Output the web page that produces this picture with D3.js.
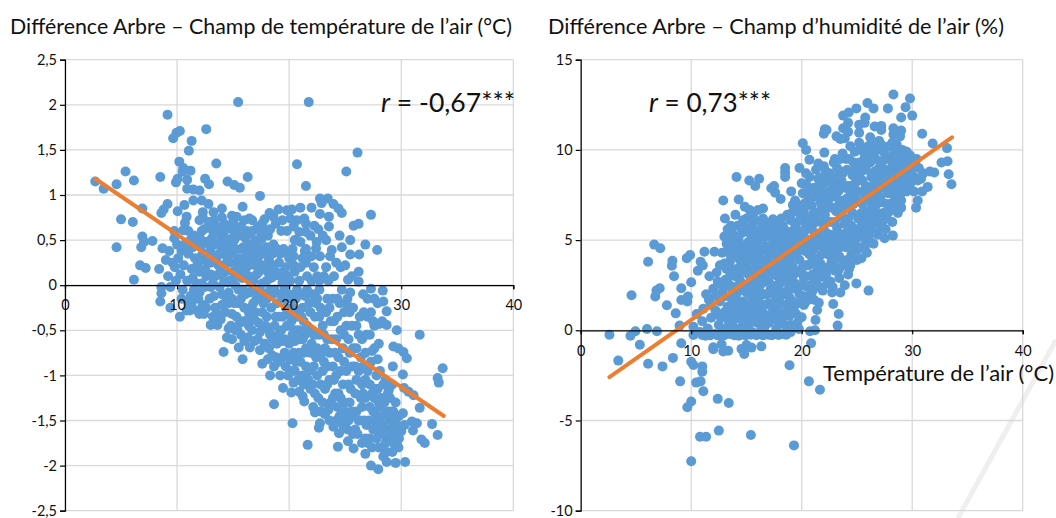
<!DOCTYPE html>
<html><head><meta charset="utf-8">
<script src="https://cdnjs.cloudflare.com/ajax/libs/d3/7.8.5/d3.min.js"></script>
<style>html,body{margin:0;background:#fff}svg{display:block}text{font-family:Lato,Carlito,sans-serif;fill:#111}</style>
</head><body><div id="c"></div>
<script>
const xTicks=[0,10,20,30,40];
const yTicksLeft=[-2.5,-2,-1.5,-1,-0.5,0,0.5,1,1.5,2,2.5];
const yTicksRight=[-10,-5,0,5,10,15];
const titleLeft="Différence Arbre – Champ de température de l’air (°C)";
const titleRight="Différence Arbre – Champ d’humidité de l’air (%)";
const xLabelRight="Température de l’air (°C)";
const trendLeft=[[2.7,1.18],[33.8,-1.45]];
const trendRight=[[2.6,-2.6],[33.6,10.7]];
const pointsLeftSparse=[[2.7,1.15],[3.45,1.07],[4.6,1.12],[5.4,1.26],[6.15,1.16],[6.9,.85],[5,.73],[6.05,.7],[4.6,.42],[6.9,.54],[7.05,.48],[6.8,.42],[7.8,.49],[9.15,1.89],[15.45,2.03],[21.75,2.03],[10.25,1.71],[9.95,1.69],[9.65,1.63],[12.6,1.73],[11.3,1.6],[11.05,1.49],[26.1,1.47],[13.5,1.35],[10.2,1.37],[20.7,1.34],[25.1,1.26],[10.55,1.3],[11.2,1.27],[10.5,1.26],[8.5,1.2],[10.05,1.18],[9.9,1.14],[10.9,1.17],[12.5,1.18],[12.85,1.12],[16.3,1.2],[14.5,1.15],[15.1,1.11],[15.6,1.08],[21.5,1.1],[10.9,1.07],[11.45,1.06],[12,1.05],[17.4,.99],[22.75,.96],[23.45,.96],[22.9,.91],[23.95,.9],[24.4,.85],[24.7,.8],[27.3,.78],[9.15,.9],[8.8,.84],[8.6,.8],[10.05,.82],[10.65,.89],[11.45,.94],[12.2,.94],[12.8,.9],[14,.85],[15.85,.87],[19.05,.84],[19.8,.83],[20.25,.84],[21,.86],[22,.86],[18.25,.8],[18.6,.76],[20.1,.74],[22.75,.79],[23.55,.76],[23.55,.65],[21.35,.74],[21.5,.68],[22.25,.66],[25.75,.66],[26.2,.68],[12.3,.81],[13.25,.81],[14.9,.77],[15.3,.76],[16.45,.74],[17.8,.73],[10.85,.76],[10.7,.69],[12,.72],[12.8,.65],[13.85,.56],[15.7,.65],[19.8,.6],[20.9,.59],[21.5,.59],[9.75,.6],[9.75,.52],[10.55,.61],[10.75,.46],[12.05,.52],[17.55,.57],[16.45,.57],[14.9,.52],[14.15,.43],[20.55,.5],[22.45,.48],[25.45,.5],[26.8,.45],[27.85,.39],[24.7,.42],[23.8,.39],[23.65,.32],[22.4,.41],[21.4,.38],[19.9,.35],[20.4,.32],[22.75,.32],[25.45,.34],[26.25,.34],[8.7,.41],[9.3,.38],[9,.28],[6.15,.06],[6.7,.22],[7.2,.19],[8.4,.18],[8.6,-.02],[8.6,-.09],[8.5,-.18],[9.4,-.25],[10.25,-.35],[10.85,-.28],[11.15,-.28],[12,-.32],[13,-.44],[13.6,-.44],[14.45,-.58],[14.15,-.74],[15.5,-.69],[16.5,-.69],[15.85,-.82],[17.6,-.87],[18.65,-.9],[18.3,-1],[19.45,-1.14],[20.2,-1.19],[18.65,-1.32],[20.3,-1.53],[21.65,-1.77],[21.2,-1.23],[21.35,-1.29],[22.15,-1.35],[22.3,-1.41],[23.2,-1.43],[22.75,-1.53],[22.65,-1.58],[23.95,-1.57],[24.45,-1.64],[25.25,-1.73],[24.35,-1.79],[25.75,-1.81],[26.8,-1.87],[27.3,-2],[27.95,-2.04],[28.7,-1.96],[29.5,-1.97],[30.35,-1.96],[29.75,-1.8],[31.8,-1.71],[32.1,-1.75],[33.25,-1.66],[32.75,-1.54],[31.05,-1.61],[31.4,-1.53],[30.95,-1.51],[30.15,-1.42],[31.65,-1.36],[31.1,-1.22],[30.65,-1.18],[30.25,-1.14],[30.15,-.99],[33.35,-1.08],[33.25,-1.03],[33.7,-.92],[31.65,-.55],[29.6,-.5],[28.7,-.44],[28.05,-.43],[28.7,-.29],[28.35,-.06],[27.3,-.04],[28.4,-.18],[29.3,-.68],[29.75,-.7],[30.2,-.74],[30.5,-.81],[28,-.65],[27.4,-.73],[27.9,-.82],[29.25,-.9],[28.9,-1.16],[26.2,.15],[25.25,.06],[26.2,.04],[25.45,-.08],[25.15,-.21],[26.65,-.3]];
const pointsLeftDense=[[9.2,.1],[9.6,.25],[9.4,-.02],[9.9,.05],[9.8,.2],[10.1,.3],[10.3,.12],[10.5,-.05],[10.6,.22],[11,.35],[10.9,.05],[11.2,-.12],[11.3,.18],[11.6,.3],[11.7,.02],[11.9,-.15],[12,.15],[12.1,.42],[12.4,.28],[12.5,-.02],[12.6,.1],[12.9,.45],[12.9,-.15],[13,.25],[13.2,.6],[13.2,.02],[13.4,-.25],[13.5,.3],[13.7,.12],[13.9,.48],[14,-.1],[14.1,.22],[14.3,-.3],[14.4,.62],[14.5,.03],[14.7,.35],[14.8,-.45],[14.9,-.15],[15,.15],[15.1,.5],[15.3,-.35],[15.4,.3],[15.5,-.05],[15.7,-.55],[15.8,.08],[15.9,.42],[16,-.25],[16.2,.2],[16.2,.6],[16.4,-.45],[16.5,-.08],[16.7,.35],[16.8,.05],[17,-.3],[17,.5],[17.2,-.6],[17.3,.15],[17.5,-.15],[17.7,.35],[17.9,-.45],[18,.05],[18.1,.55],[18.2,-.7],[18.4,-.25],[18.5,.22],[18.7,-.05],[18.9,.4],[19,-.55],[19.1,-.35],[19.2,.1],[19.4,-.8],[19.5,-.15],[19.7,.2],[19.8,-.45],[20,-.65],[20.1,.05],[20.2,-.95],[20.3,-.25],[20.5,.15],[20.6,-.5],[20.8,-1.05],[20.9,-.75],[21,-.1],[21.2,.3],[21.3,-.4],[21.5,-.9],[21.6,.1],[21.8,-.2],[21.9,-1.15],[22,-.65],[22.2,.2],[22.3,-.35],[22.5,-1],[22.6,-1.25],[22.7,-.05],[22.9,-.75],[23,-.45],[23.1,.1],[23.2,-1.15],[23.4,-.9],[23.5,-1.38],[23.6,-.25],[23.8,-.6],[24,.1],[24,-1.05],[24.2,-1.5],[24.3,-.35],[24.4,-.8],[24.6,-1.25],[24.7,-.05],[24.9,-.55],[25,-1.4],[25.1,-.95],[25.2,-1.6],[25.4,-.3],[25.5,-1.15],[25.7,-.7],[25.8,-1.45],[26,-.45],[26.1,-1.65],[26.2,-.95],[26.4,-1.25],[26.5,-.6],[26.7,-1.5],[26.8,-1.05],[27,-1.75],[27,-.35],[27.2,-1.35],[27.3,-.85],[27.5,-1.6],[27.6,-.15],[27.7,-1.15],[27.9,-1.45],[28,-1.8],[28.1,-.95],[28.2,-1.25],[28.3,-.4],[28.4,-1.6],[28.6,-1.05],[28.7,-1.85],[28.8,-1.4],[29,-1.7],[29.2,-1.1],[29.3,-1.55],[29.5,-1.3],[29.6,-1.75],[29.8,-1.45],[30,-1.62],[30.3,-1.55],[10,.45],[10.8,.45],[11.5,.55],[12.2,.6],[12.8,.7],[13.5,.65],[14,.75],[15,.7],[11.5,-.05],[12.3,-.22],[13,-.02],[13.6,.45],[14.2,.05],[14.6,-.2],[15.2,0],[15.6,.2],[16,.3],[16.4,.1],[16.8,-.2],[17.2,.3],[17.6,.02],[18,-.15],[18.4,.08],[18.8,-.35],[19.2,-.1],[19.6,-.6],[20,.3],[20.4,-.75],[20.8,-.3],[21.2,-.6],[21.6,-.05],[22,.05],[22.4,-.55],[22.8,-.25],[23.2,-.7],[23.6,-1.05],[24,-.4],[24.4,-1.2],[24.8,-1.55],[25.2,-.15],[25.6,-.9],[26,-1.4],[26.4,-.8],[26.8,-1.7],[27.2,-.55],[27.6,-1.25],[28,-1.55],[28.4,-1.9],[28.8,-1.2],[29.2,-1.85],[29.6,-1.55],[14.5,.45],[15.5,.55],[16.5,.45],[17.5,.5],[18.5,.35],[19.5,.4],[20.5,.5],[21.5,.4],[22.5,.1],[23.5,.05]];
const pointsLeftFill=[[10.4,.38],[10.4,-.15],[11,.6],[11,-.2],[11.4,.42],[11.4,.08],[11.8,.22],[11.8,-.28],[12.2,.02],[12.2,.33],[12.6,.48],[12.6,-.25],[13,.12],[13,.38],[13.3,.72],[13.3,-.12],[13.6,-.32],[13.7,.22],[14,.35],[14,-.22],[14.3,.15],[14.3,.52],[14.6,-.08],[14.6,.25],[14.9,.62],[14.9,-.32],[15.2,.1],[15.2,.4],[15.2,-.5],[15.5,-.2],[15.5,.15],[15.8,-.4],[15.8,.28],[16.1,-.1],[16.1,.52],[16.4,-.3],[16.4,.22],[16.7,-.5],[16.7,.6],[17,-.05],[17,.22],[17.3,-.42],[17.3,.4],[17.6,-.3],[17.6,.18],[17.9,-.1],[17.9,.6],[18.2,-.5],[18.2,.28],[18.5,-.6],[18.5,-.1],[18.8,.15],[18.8,-.8],[19.1,-.6],[19.1,.25],[19.4,-.35],[19.4,.02],[19.7,-.9],[19.7,-.25],[20,-.45],[20,-.1],[20.3,-.55],[20.3,.4],[20.6,-.85],[20.6,-.15],[20.9,-.5],[20.9,.05],[21.2,-1],[21.2,-.25],[21.5,-.7],[21.5,.25],[21.8,-.5],[21.8,-.95],[22.1,-1.1],[22.1,-.1],[22.4,-.8],[22.4,-.2],[22.7,-.55],[22.7,.05],[23,-1.3],[23,-.95],[23.3,-.3],[23.3,.2],[23.6,-.75],[23.6,-1.5],[23.9,-1.25],[23.9,-.15],[24.2,-.6],[24.2,-1],[24.5,-.2],[24.5,-1.45],[24.8,-.7],[24.8,-1.1],[25.1,-.45],[25.1,-1.45],[25.4,-1.3],[25.4,-.75],[25.7,-1.65],[25.7,-.25],[26,-1.05],[26,-.7],[26.3,-1.5],[26.3,-.35],[26.6,-1.2],[26.6,-.9],[26.9,-1.55],[26.9,-.55],[27.2,-1.7],[27.2,-1.1],[27.5,-.4],[27.5,-1.4],[27.8,-1],[27.8,-1.7],[28.1,-1.35],[28.1,-1.65],[28.4,-1.1],[28.4,-1.45],[28.7,-1.7],[28.7,-1.25],[29,-1.5],[29,-1.25],[29.3,-1.75],[29.3,-1.4],[29.6,-1.65],[29.9,-1.58]];
const pointsLeftFill2=[[11.2,.5],[11.7,.45],[12.3,.75],[12.5,.18],[12.7,.35],[13.1,.52],[13.4,.1],[13.8,.35],[13.8,-.02],[14.2,.68],[14.5,.28],[14.7,.05],[14.4,-.15],[14.9,.4],[15.3,.62],[15.2,.25],[15.1,-.2],[15.4,-.5],[15.7,.4],[15.7,-.15],[15.9,-.05],[16,.72],[16.1,.12],[16.3,-.38],[16.3,.35],[16.6,.02],[16.6,.28],[16.6,-.25],[16.9,.42],[16.9,-.38],[17.1,.12],[17.1,-.15],[17.4,-.05],[17.4,.6],[17.4,-.52],[17.7,.22],[17.7,-.2],[18,.42],[18,-.35],[18.1,.15],[18.3,-.05],[18.3,-.55],[18.6,.45],[18.6,.1],[18.7,-.45],[18.9,-.2],[18.9,-.65],[19.2,.35],[19.3,-.5],[19.5,.15],[19.6,-.02],[19.6,-.75],[19.9,.1],[19.9,-.32],[19.9,-1],[20.2,-.15],[20.2,-.4],[20.4,.22],[20.5,-.95],[20.5,-.62],[20.7,-.05],[20.7,-.35],[21,.2],[21,-.85],[21,-.6],[21.3,-.75],[21.3,-1.1],[21.4,-.12],[21.6,-.45],[21.7,-1.05],[21.9,-.3],[21.9,-.75],[22.2,-.9],[22.2,-.55],[22.3,-1.2],[22.5,-.15],[22.5,-.7],[22.7,-.35],[22.8,-1.1],[22.8,-1.4],[23.1,-.55],[23.1,-.85],[23.4,-.15],[23.4,-.6],[23.4,-1.1],[23.7,-.4],[23.7,-1.3],[23.9,-.9],[24.1,-.75],[24.1,-1.2],[24.3,-.15],[24.3,-1.35],[24.6,-.5],[24.6,-.95],[24.7,-1.5],[24.9,-.3],[24.9,-.85],[24.9,-1.3],[25.3,-.6],[25.3,-1.1],[25.3,-1.5],[25.6,-.45],[25.6,-1.4],[25.9,-.9],[25.9,-1.2],[25.9,-1.6],[26.2,-.55],[26.2,-1.5],[26.5,-1.1],[26.5,-1.35],[26.5,-1.75],[26.8,-.75],[26.8,-1.25],[27,-.95],[27.1,-1.5],[27.3,-.3],[27.4,-1.2],[27.4,-1.8],[27.6,-1.5],[27.6,-.7],[27.9,-1.15],[28,-1.3],[28.2,-1.8],[28.3,-1.55],[28.5,-1.3],[28.6,-1.75],[28.9,-1.6],[29.1,-1.4],[29.2,-1.65],[29.5,-1.5],[29.8,-1.7]];
const pointsLeftFill3=[[11.3,-.2],[12,-.08],[12.4,-.32],[13.2,-.35],[13.9,-.38],[14.6,-.48],[14.9,-.6],[15.6,-.42],[16,-.62],[16.3,-.58],[16.9,-.62],[17.4,-.72],[17.8,-.65],[18.1,-.82],[18.5,-.78],[19.1,-.85],[19.4,-.62],[19.2,-1],[20.1,-.82],[20.4,-1.08],[20.9,-1.18],[21.1,-.35],[21.4,-.55],[16.7,.72],[17.2,.65],[17.6,.68],[18.3,.62],[18.8,.68],[19.3,.6],[19.4,.72],[20.4,.65],[20.7,.72],[21,.48],[21.9,.55],[22,.32],[22.6,.62],[23,.55],[23.3,.5],[24.2,.25],[24.6,.2],[25,.22],[25.6,.1],[24.5,.55],[26.6,-.1],[27,-.15],[27.6,-.45],[27.9,-.2],[12.4,.62],[13.7,.62],[14.6,.65]];
const pointsRightSparse=[[28.3,13.07],[29.8,12.85],[29.4,12.37],[25.95,12.6],[26.5,12.3],[27.8,12.3],[24.95,12.3],[24.25,12.07],[23.75,11.9],[25.75,11.8],[29,11.8],[30,11.9],[25.7,11.5],[25.2,11.4],[24.2,11.5],[23.75,11.2],[24.2,11],[22.1,11.15],[22.25,11.1],[22,10.9],[26.6,11.3],[27.2,11.33],[27.2,11.1],[28.3,11.2],[29,11.07],[28.3,10.85],[28.9,10.75],[25.2,10.95],[26.2,10.7],[30.9,10.9],[23.15,10.75],[23.5,10.6],[23.9,10.65],[20.1,10.37],[20.4,10],[22.05,9.85],[31.85,10.35],[33.15,10.1],[20.7,9.45],[23,9.5],[23.75,9.55],[32.65,9.3],[33.2,9.37],[33.3,8.65],[33.55,8.1],[31,8.7],[31.6,8.8],[32,8.75],[18.5,9],[18.5,8.75],[18.5,8.5],[19.8,9],[20.4,8.7],[21.3,8.9],[21.5,9.25],[14.1,8.5],[15.25,8.3],[16.15,8.4],[15.8,8],[17.5,8],[17.25,7.87],[17.6,7.63],[18.1,7.28],[19.05,7.7],[19.2,6.95],[20,8.15],[20.4,8.1],[20.55,7.2],[20.5,7],[22.05,8.2],[12.9,7.2],[14.3,7.25],[13.05,6.2],[14,6.4],[14.85,6.85],[16.5,6.75],[15.3,6.67],[16.05,6.67],[17.4,6.15],[18.15,6.2],[20.05,6.5],[30.15,7.7],[30.9,7.7],[31.4,7.95],[30.5,7.2],[30.35,6.8],[29,6.8],[28.7,6.5],[27.8,6.5],[28.25,5.25],[6.65,4.75],[7.2,4.55],[6.1,3.8],[8.3,3.85],[8.25,3.58],[9.9,4.17],[9.6,4],[10.85,3.8],[11.2,4.35],[12.1,4.35],[11.05,3.6],[8.45,3],[10,2.66],[9.1,2.33],[7.15,2.33],[6.85,2.2],[6.75,1.87],[4.6,1.94],[7.8,1.39],[9.1,1.68],[9.7,1.87],[9.65,1.6],[8.6,.94],[11.35,2],[12.6,2.57],[11.65,3],[10.6,3.3],[8.95,.26],[6,.07],[6.9,-.05],[4.95,-.05],[4.5,-.3],[2.6,-.25],[5.35,-.8],[3.4,-1.68],[6.1,-1.85],[7.4,-2],[8.35,-1.53],[9.1,-.72],[9,-2.83],[10,-1.74],[10.2,-1.92],[11,-2],[11,-2.3],[10.45,-2.9],[10.85,-2.83],[11.1,-3.38],[10,-3.95],[9.65,-4.27],[12.4,-3.8],[13.4,-4.03],[10.8,-5.9],[11.35,-5.9],[12.5,-5.56],[15.4,-5.8],[19.3,-6.38],[10,-7.26],[18.9,-1.94],[20.65,-2.83],[21.65,-3.3],[12,-.94],[12,-1.05],[12.9,-1.18],[13.35,-1.13],[12.75,-.78],[14.55,-1.03],[14.8,-1.31],[15,-.81],[15.45,-.96],[16.35,-.89],[20.85,-.72],[21.2,0],[20.75,-.05],[19.75,.07],[20,.72],[20.2,1.4],[21.25,.57],[21.4,1.13],[21.55,1.53],[22.85,1.46],[23.35,.9],[23.25,.26],[23.5,2.1],[23.9,2.5],[24.95,2.6],[26.05,2.2],[22.75,2.1],[24.3,3.43]];
const pointsRightDense=[[10.2,.2],[10.5,.9],[10.8,-.1],[11,.5],[11.1,1.2],[11.3,-.3],[11.5,.1],[11.6,1.7],[11.8,.7],[12,2.3],[12.1,-.2],[12.2,1.1],[12.3,3.2],[12.5,.3],[12.6,1.6],[12.7,-.3],[12.8,2.1],[12.9,.8],[13,3.7],[13,5.2],[13.1,2.8],[13.2,.1],[13.3,1.3],[13.4,4.5],[13.5,-.2],[13.6,5.8],[13.7,2.3],[13.8,3.3],[13.9,.6],[14,1.7],[14.1,4.1],[14.2,5.2],[14.3,-.3],[14.4,2.8],[14.5,1],[14.6,3.6],[14.7,6.1],[14.8,4.7],[14.9,.2],[15,2.1],[15.1,5.6],[15.2,3.1],[15.3,1.4],[15.4,-.25],[15.5,4.2],[15.6,6.3],[15.7,.7],[15.8,2.5],[15.9,5],[16,3.6],[16.1,1.7],[16.2,-.1],[16.3,4.5],[16.4,5.9],[16.5,2.9],[16.6,.9],[16.7,3.9],[16.8,5.2],[16.9,2],[17,-.25],[17,.4],[17.2,4.7],[17.3,3.1],[17.4,1.2],[17.5,5.7],[17.6,2.4],[17.7,.1],[17.8,4],[17.9,6],[18,3.3],[18.1,1.5],[18.2,5],[18.3,-.2],[18.4,.8],[18.5,2.7],[18.6,4.4],[18.7,6.4],[18.8,3.6],[18.9,1.8],[19,.3],[19.1,5.4],[19.2,2.3],[19.3,4.6],[19.4,7.2],[19.5,3.2],[19.6,6],[19.7,1.5],[19.8,3.9],[19.9,5.1],[20,2.5],[20.1,7.6],[20.2,6.6],[20.3,4.4],[20.4,3],[20.5,5.6],[20.6,1.9],[20.7,8.5],[20.8,3.7],[20.9,6.9],[21,4.9],[21.1,7.9],[21.2,2.7],[21.3,6],[21.4,3.4],[21.5,8.4],[21.6,5.3],[21.7,7.1],[21.8,4.2],[21.9,2.2],[22,9.1],[22.1,6.4],[22.2,3.1],[22.3,7.7],[22.4,5],[22.5,8.7],[22.6,2.7],[22.7,3.8],[22.8,6.8],[22.9,9.3],[23,4.5],[23.1,7.4],[23.2,5.7],[23.3,8.2],[23.4,2.9],[23.5,3.5],[23.6,6.3],[23.7,9.8],[23.8,4.9],[23.9,7.9],[24,5.4],[24.1,8.9],[24.2,3.1],[24.3,6.8],[24.4,10.2],[24.5,4.2],[24.6,7.4],[24.7,9.3],[24.8,5.6],[24.9,8.2],[25,3.9],[25.1,6.2],[25.2,10.4],[25.3,4.6],[25.4,8.8],[25.5,7],[25.6,5.2],[25.7,9.6],[25.8,6.6],[25.9,4.3],[26,10.2],[26.1,7.8],[26.2,5.7],[26.3,8.5],[26.4,6.9],[26.5,4.8],[26.6,9.9],[26.7,6.2],[26.8,8.1],[26.9,5.3],[27,10.5],[27.1,7.4],[27.2,9.2],[27.3,6],[27.4,8.7],[27.5,5.1],[27.6,10.1],[27.7,7],[27.8,8.2],[27.9,6.6],[28,9.6],[28.1,7.6],[28.2,10.4],[28.3,8.8],[28.4,7.2],[28.5,9.2],[28.6,6.9],[28.7,8.2],[28.8,10],[28.9,7.5],[29,8.7],[29.2,9.6],[29.3,7.9],[29.4,8.3],[29.6,9.4],[29.8,8.1],[30,9],[30.2,8.5],[30.4,9.5],[30.6,9],[30.8,8.4],[13.5,3],[13.8,1.1],[14.3,2.2],[14.4,4.7],[14.6,.2],[15,3.7],[15.2,4.9],[15.4,1.9],[15.5,-.1],[15.9,3],[16,1.1],[16.2,5.3],[16.4,3.4],[16.6,2],[16.8,-.2],[17,3.5],[17.2,2.3],[17.4,5.1],[17.6,.7],[17.8,3],[18,1.9],[18,4.5],[18.3,5.8],[18.4,3.9],[18.7,1.2],[18.8,5],[19,2.9],[19.2,4],[19.5,.9],[19.7,5.5],[20,3.4],[20.3,5.1],[20.5,6.2],[20.8,2.5],[21.1,4.5],[21.4,6.5],[21.7,3.7],[22,5.6],[22.4,4.2],[22.6,6],[23,7.9],[23.3,3.3],[23.5,8.8],[24,6.1],[24.4,7.7],[24.7,4.8],[25,9],[25.4,6.5],[25.8,8],[26.2,9.3],[26.6,7.2],[27,8.4],[27.4,9.9],[27.8,7.6]];
const pointsRightFill=[[12.4,.9],[12.4,2.7],[12.8,4.3],[12.8,-.05],[13.1,1.9],[13.2,3.4],[13.3,5.6],[13.4,.5],[13.6,1.8],[13.6,4.1],[13.8,5],[14,.1],[14,2.4],[14,3],[14.2,5.8],[14.4,1.4],[14.4,3.9],[14.6,.6],[14.6,5.4],[14.8,2.5],[14.8,3.4],[15,1.2],[15,4.4],[15,6.2],[15.2,.3],[15.4,2.8],[15.4,5.3],[15.6,1.5],[15.6,3.4],[15.8,4.5],[15.8,6.1],[16,.4],[16,2.3],[16.2,3.9],[16.2,4.9],[16.4,1.4],[16.4,2.6],[16.6,.1],[16.6,5.6],[16.8,3.2],[16.8,4.4],[17,1.5],[17,2.7],[17.2,.6],[17.2,5.5],[17.4,3.7],[17.4,2],[17.6,4.4],[17.6,-.15],[17.8,1.2],[17.8,5.3],[18,2.6],[18.2,.4],[18.2,3.6],[18.4,4.7],[18.4,2],[18.6,1.4],[18.6,5.5],[18.8,.2],[18.8,3],[19,4.3],[19,6.1],[19.2,1.6],[19.2,3.5],[19.4,5.7],[19.4,2.6],[19.6,.4],[19.6,4.4],[19.8,2],[19.8,6.5],[20,4.6],[20.2,2.9],[20.2,7],[20.4,1.6],[20.4,5.9],[20.6,3.6],[20.6,7.8],[20.8,5],[20.8,6.2],[21,2.2],[21,3.1],[21.2,7.4],[21.2,5.4],[21.4,4],[21.6,2.4],[21.6,8],[21.8,6.8],[21.8,3],[22,4.6],[22,7.4],[22.2,8.8],[22.2,5.4],[22.4,3.5],[22.4,6.8],[22.6,8.2],[22.6,4.6],[22.8,2.4],[22.8,7.6],[23,3.3],[23,6],[23.2,9],[23.2,4.9],[23.4,7],[23.4,4.1],[23.6,5.3],[23.6,8.3],[23.8,3.8],[23.8,7.2],[24,9.5],[24,4.6],[24.2,6.2],[24.2,8],[24.4,3.6],[24.4,5.2],[24.6,8.6],[24.6,6.5],[24.8,9.9],[24.8,4.4],[25,7.2],[25,5.1],[25.2,8.4],[25.2,9.3],[25.4,4],[25.4,5.8],[25.6,7.6],[25.6,10],[25.8,5],[25.8,8.9],[26,6.1],[26,7.2],[26.2,4.9],[26.2,9.7],[26.4,8],[26.4,5.4],[26.6,8.8],[26.6,6.5],[26.8,10.2],[26.8,7],[27,5.9],[27,9],[27.2,7.9],[27.2,10.3],[27.4,6.5],[27.6,8.9],[27.6,5.6],[27.8,9.5],[28,7],[28,8.3],[28.2,6],[28.2,9.1],[28.4,9.9],[28.4,8],[28.6,10.3],[28.6,7.7],[28.8,9],[29,7.2],[29,9.5],[29.2,8.4],[29.4,9],[29.6,8.6],[29.8,9.7],[30,8.3],[30.2,9.2],[30.5,8.3],[10.2,-.26],[11,-.26],[11.7,-.28],[12.4,-.28],[13,-.27],[13.9,-.27],[14.9,-.28],[15.9,-.27],[16.5,-.28],[17.3,-.27],[17.9,-.26],[18.6,-.25],[19,-.1]];
const pointsRightFill2=[[11.8,1.4],[12.2,1.9],[12.6,3.6],[12.7,.7],[13,1],[13,2.4],[13.2,4.8],[13.3,.7],[13.5,2.5],[13.5,3.8],[13.7,.3],[13.7,5.4],[13.9,1.4],[13.9,4.5],[14.1,2],[14.1,3.4],[14.3,.7],[14.3,5],[14.5,3.2],[14.5,4.4],[14.7,1.6],[14.7,5.8],[14.9,.9],[14.9,4],[15.1,2.5],[15.1,3.4],[15.3,.7],[15.3,4.6],[15.5,2.2],[15.5,5.8],[15.7,3.9],[15.7,1],[15.9,1.9],[15.9,5.5],[16.1,3.1],[16.1,4.2],[16.3,.6],[16.3,2.1],[16.5,4.8],[16.5,6.2],[16.7,1.4],[16.7,3],[16.9,.4],[16.9,3.6],[17.1,4.2],[17.1,5.9],[17.3,.9],[17.3,2.5],[17.5,3.4],[17.5,4.9],[17.7,1.7],[17.7,.6],[17.9,2.3],[17.9,4.5],[18.1,.9],[18.1,5.6],[18.3,2.9],[18.3,4.1],[18.5,.3],[18.5,5.2],[18.7,2.2],[18.7,3.3],[18.9,4.7],[18.9,.8],[19.1,2.7],[19.1,6.5],[19.3,1.1],[19.3,3.1],[19.5,5],[19.5,4.1],[19.7,2.5],[19.7,6.8],[19.9,3.2],[20.1,1.9],[20.1,5.5],[20.3,3.6],[20.3,6.3],[20.5,2.4],[20.5,4.8],[20.7,7.4],[20.7,4.2],[20.9,3],[20.9,5.7],[21.1,1.7],[21.1,6.5],[21.3,3.8],[21.3,5],[21.5,7.7],[21.5,2.9],[21.7,4.7],[21.7,6],[21.9,3.4],[21.9,8.5],[22.1,5],[22.1,7],[22.3,2.6],[22.3,6],[22.5,4.2],[22.5,7.3],[22.7,5.3],[22.9,3.6],[22.9,8.5],[23.1,6.6],[23.1,4],[23.3,5.3],[23.3,7.7],[23.5,4.6],[23.5,9.5],[23.7,6.8],[23.7,8.7],[23.9,5.9],[24.1,3.9],[24.1,7.3],[24.3,4.9],[24.3,9.5],[24.5,5.8],[24.5,8],[24.7,7],[24.9,5.3],[24.9,9],[25.1,4.5],[25.1,7.7],[25.3,5.6],[25.3,10],[25.5,6.1],[25.5,8.3],[25.7,4.6],[25.7,7.2],[25.9,9.2],[25.9,5.6],[26.1,6.6],[26.3,7.4],[26.3,10.3],[26.5,5.9],[26.5,8.6],[26.7,9.5],[26.7,7.6],[26.9,6.5],[27.1,8.5],[27.1,5.7],[27.3,7.1],[27.5,8.1],[27.5,9.5],[27.7,6.2],[27.9,7.9],[27.9,10.2],[28.1,8.7],[28.3,6.7],[28.5,7.7],[28.5,10],[28.7,9.6],[28.9,8.4],[29.1,8],[29.1,10],[29.3,9.2],[29.5,7.7],[29.5,9.9],[29.7,8.9]];
const W=1056,H=518,markerR=5,blue="#5B9BD5",orange="#ED7D31",grid="#D9D9D9";
const svg=d3.select("#c").append("svg").attr("width",W).attr("height",H);
const fmt=d=>String(d).replace(".",",");
function panel(o){
  const x=d3.scaleLinear().domain([0,40]).range(o.xr), y=d3.scaleLinear().domain(o.yd).range([510.7,59.7]);
  const g=svg.append("g");
  g.append("g").selectAll("line").data(xTicks).join("line").attr("x1",x).attr("x2",x).attr("y1",y.range()[0]).attr("y2",y.range()[1]).attr("stroke",grid).attr("stroke-width",1.3);
  g.append("g").selectAll("line").data(o.yt).join("line").attr("x1",o.xr[0]).attr("x2",o.xr[1]).attr("y1",y).attr("y2",y).attr("stroke",grid).attr("stroke-width",1.3);
  g.append("g").selectAll("circle").data(o.pts).join("circle").attr("cx",d=>x(d[0])).attr("cy",d=>y(d[1])).attr("r",markerR).attr("fill",blue);
  g.append("line").attr("x1",x(o.trend[0][0])).attr("y1",y(o.trend[0][1])).attr("x2",x(o.trend[1][0])).attr("y2",y(o.trend[1][1])).attr("stroke",orange).attr("stroke-width",4).attr("stroke-linecap","round");
  const ax=g.append("g").attr("transform",`translate(0,${y(0)})`).call(d3.axisBottom(x).tickValues(xTicks).tickSize(4).tickPadding(11).tickFormat(fmt));
  const ay=g.append("g").attr("transform",`translate(${o.xr[0]},0)`).call(d3.axisLeft(y).tickValues(o.yt).tickSize(5).tickPadding(3).tickFormat(fmt));
  [ax,ay].forEach(a=>{a.selectAll("text").attr("font-size",14.5).attr("fill","#111").style("font-family","Lato");a.select(".domain").attr("stroke","#000").attr("stroke-width",1.2);a.selectAll("line").attr("stroke","#000").attr("stroke-width",1.2);});
  svg.append("text").attr("x",o.tx).attr("y",34).attr("font-size",20.5).attr("textLength",o.tl).attr("lengthAdjust","spacingAndGlyphs").text(o.title);
  const r=svg.append("text").attr("x",o.rx).attr("y",112).attr("font-size",26.5).attr("textLength",o.rl).attr("lengthAdjust","spacingAndGlyphs");
  r.append("tspan").attr("font-style","italic").text("r");
  r.append("tspan").text(o.rt);
}
// faint watermark stroke of the source page
svg.append("path").attr("d",d3.line()([[1056,340],[958,518]])).attr("stroke","#EFEFEF").attr("stroke-width",5).attr("fill","none");
panel({xr:[65,513.3],yd:[-2.5,2.5],yt:yTicksLeft,pts:pointsLeftSparse.concat(pointsLeftDense,pointsLeftFill,pointsLeftFill2,pointsLeftFill3),trend:trendLeft,title:titleLeft,tx:10,tl:502,rx:381,rl:134,rt:" = -0,67***"});
panel({xr:[580.7,1022.7],yd:[-10,15],yt:yTicksRight,pts:pointsRightSparse.concat(pointsRightDense,pointsRightFill,pointsRightFill2),trend:trendRight,title:titleRight,tx:548,tl:456,rx:649,rl:122,rt:" = 0,73***"});
svg.append("text").attr("x",823).attr("y",381).attr("font-size",20.5).attr("textLength",231).attr("lengthAdjust","spacingAndGlyphs").text(xLabelRight);
</script></body></html>
